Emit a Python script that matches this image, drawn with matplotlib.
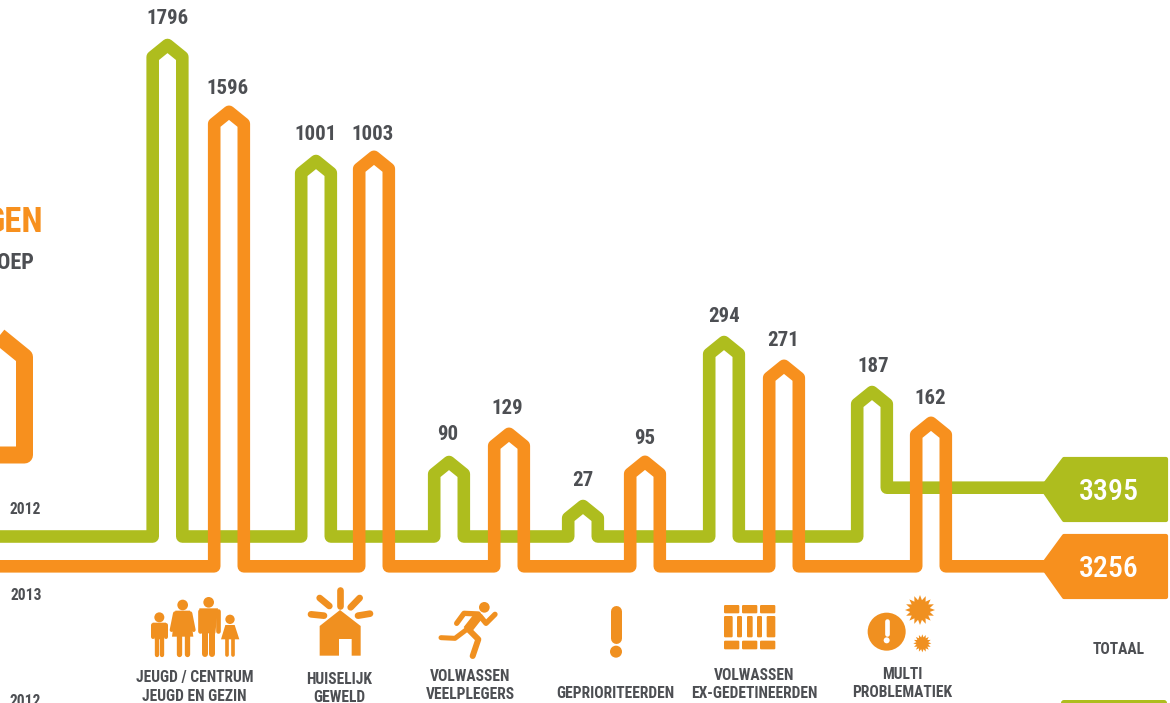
import numpy as np
import matplotlib
matplotlib.use('Agg')
import matplotlib.pyplot as plt
from matplotlib.patches import Circle, Polygon, FancyBboxPatch

GROEN = '#aebd1e'
ORANJE = '#f7901e'
ICOON = '#f09020'
GRIJS = '#4d4f53'
FONT = ['Roboto Condensed', 'Liberation Sans', 'DejaVu Sans']

# DATA: the drawn peak heights are read off the picture, it is not to scale
groen_waarden = [1796, 1001, 90, 27, 294, 187]
oranje_waarden = [1596, 1003, 129, 95, 271, 162]
groen_hoogte = [498, 382, 81, 37, 201, 151]
oranje_hoogte = [461, 416, 139, 111, 207, 150]
groen_totaal = 3395
oranje_totaal = 3256
categorieen = ['JEUGD / CENTRUM\nJEUGD EN GEZIN', 'HUISELIJK\nGEWELD', 'VOLWASSEN\nVEELPLEGERS',
               'GEPRIORITEERDEN', 'VOLWASSEN\nEX-GEDETINEERDEN', 'MULTI\nPROBLEMATIEK']

# LAYOUT
groen_x = [167.5, 316, 449, 583, 724, 872]
oranje_x = [229, 374, 509, 645, 784, 931]
groen_label_x = [168, 316, 447.5, 583, 724, 873]
oranje_label_x = [228, 373, 507.5, 645, 783, 930]
groen_label_y = [18, 134, 435, 480, 317, 366]
oranje_label_y = [89, 134, 409, 438, 341, 398]
cat_x = [194.5, 339, 470.5, 615, 754, 902]
cat_y = [687, 688.5, 685.5, 693.5, 684.5, 683.5]
BASIS_G = 536.5
BASIS_O = 566.3
HALF = 14.8
LW = 12.6 * 0.72

fig = plt.figure(figsize=(11.7, 7.03), dpi=100)
ax = fig.add_axes([0, 0, 1, 1])
ax.set_xlim(0, 1170)
ax.set_ylim(703, 0)
ax.axis('off')


def pad(centers, hoogtes, basis, start):
    xs, ys = [start], [basis]
    for c, h in zip(centers, hoogtes):
        top = basis - h + 6.5
        xs += [c - HALF, c - HALF, c, c + HALF, c + HALF]
        ys += [basis, top + 12, top, top + 12, basis]
    return xs, ys


def lijn(xs, ys, kleur, lw=LW, cap='butt', z=2):
    ax.plot(xs, ys, color=kleur, lw=lw, solid_capstyle=cap, solid_joinstyle='round', zorder=z)


# groene en oranje lijn
gx, gy = pad(groen_x, groen_hoogte, BASIS_G, -5)
gy[-1] = 487.7
gx.append(1050)
gy.append(487.7)
lijn(gx, gy, GROEN, z=2)
ox, oy = pad(oranje_x, oranje_hoogte, BASIS_O, -5)
ox.append(1050)
oy.append(BASIS_O)
lijn(ox, oy, ORANJE, z=3)

# stuk van de linkse figuur
lijn([-5, 24.5, 24.5, -5], [333, 357, 455, 455], ORANJE, lw=17 * 0.72)

# labels totaal
for pts, kleur, z in [([(1042, 488), (1064, 459), (1166, 459), (1166, 520), (1064, 520)], GROEN, 2),
                      ([(1042, 566), (1064, 536), (1166, 536), (1166, 597), (1064, 597)], ORANJE, 3)]:
    ax.add_patch(Polygon(pts, closed=True, facecolor=kleur, edgecolor=kleur, lw=3, joinstyle='round', zorder=z))
ax.add_patch(FancyBboxPatch((1061, 700), 106, 20, boxstyle='round,pad=0,rounding_size=3',
                            facecolor=GROEN, edgecolor=GROEN, lw=0, zorder=2))


def tekst(x, y, s, size, kleur=GRIJS, gewicht='bold', **kw):
    ax.text(x, y, s, fontsize=size, color=kleur, family=FONT, fontweight=gewicht,
            ha=kw.pop('ha', 'center'), va='center', zorder=6, **kw)


for x, y, v in zip(groen_label_x, groen_label_y, groen_waarden):
    tekst(x, y, str(v), 15)
for x, y, v in zip(oranje_label_x, oranje_label_y, oranje_waarden):
    tekst(x, y, str(v), 15)
for x, y, c in zip(cat_x, cat_y, categorieen):
    tekst(x, y, c, 11.2, linespacing=1.3)

tekst(1108.5, 492, str(groen_totaal), 21.5, 'white', 'medium')
tekst(1108.5, 569, str(oranje_totaal), 21.5, 'white', 'medium')
tekst(1119, 650, 'TOTAAL', 11.2)
tekst(25, 509, '2012', 11.2)
tekst(26, 596, '2013', 11.2)
tekst(25, 701, '2012', 11.2)
tekst(42.5, 222, 'GEN', 25, ORANJE, ha='right')
tekst(34, 263, 'OEP', 16, ha='right')


# ICONEN, coordinaten uit een 3x vergroting
def ic_lijn(o, pts, lw, kleur=ICOON, cap='round'):
    xs = [o[0] + p[0] / 3 for p in pts]
    ys = [o[1] + p[1] / 3 for p in pts]
    lijn(xs, ys, kleur, lw=lw / 3 * 0.72, cap=cap, z=5)


def ic_cirkel(o, x, y, r, kleur=ICOON, z=5):
    ax.add_patch(Circle((o[0] + x / 3, o[1] + y / 3), r / 3, facecolor=kleur, edgecolor='none', zorder=z))


def ic_vlak(o, pts, kleur=ICOON):
    ax.add_patch(Polygon([(o[0] + p[0] / 3, o[1] + p[1] / 3) for p in pts], closed=True,
                         facecolor=kleur, edgecolor='none', zorder=5))


def ic_blok(o, x0, x1, y0, y1):
    ax.add_patch(FancyBboxPatch((o[0] + x0 / 3, o[1] + y0 / 3), (x1 - x0) / 3, (y1 - y0) / 3,
                                boxstyle='round,pad=0,rounding_size=1.2', facecolor=ICOON,
                                edgecolor='none', zorder=5))


def ster(o, cx, cy, R, r, n, kleur=ICOON):
    hoeken = np.arange(2 * n) * np.pi / n
    straal = np.where(np.arange(2 * n) % 2 == 0, R, r)
    ic_vlak(o, list(zip(cx + straal * np.sin(hoeken), cy - straal * np.cos(hoeken))), kleur)


o1 = (130, 580)
# jongen
ic_cirkel(o1, 88, 112, 15)
ic_vlak(o1, [(68, 128), (108, 128), (102, 178), (74, 178)])
ic_lijn(o1, [(69, 135), (69, 172)], 12)
ic_lijn(o1, [(107, 135), (107, 172)], 12)
ic_lijn(o1, [(80, 170), (80, 224)], 13)
ic_lijn(o1, [(96, 170), (96, 224)], 13)
# vrouw
ic_cirkel(o1, 158, 75, 16)
ic_vlak(o1, [(136, 92), (180, 92), (190, 170), (126, 170)])
ic_lijn(o1, [(135, 100), (125, 150)], 12)
ic_lijn(o1, [(181, 100), (191, 150)], 12)
ic_lijn(o1, [(146, 165), (146, 222)], 16)
ic_lijn(o1, [(170, 165), (170, 222)], 16)
# man
ic_cirkel(o1, 236, 67, 16)
ic_vlak(o1, [(208, 85), (264, 85), (256, 160), (216, 160)])
ic_lijn(o1, [(210, 92), (210, 152)], 14)
ic_lijn(o1, [(264, 92), (264, 152)], 14)
ic_lijn(o1, [(226, 150), (226, 222)], 18)
ic_lijn(o1, [(247, 150), (247, 222)], 18)
# meisje
ic_cirkel(o1, 300, 118, 14)
ic_vlak(o1, [(286, 135), (314, 135), (328, 178), (273, 178)])
ic_lijn(o1, [(290, 175), (290, 224)], 11)
ic_lijn(o1, [(310, 175), (310, 224)], 11)
# huis
ic_vlak(o1, [(630, 90), (692, 138), (692, 227), (665, 227), (665, 177), (627, 177), (627, 227),
             (569, 227), (569, 138)])
for r in [[(569, 54), (598, 78)], [(630, 31), (630, 78)], [(689, 54), (662, 82)],
          [(543, 103), (582, 107)], [(684, 107), (720, 101)]]:
    ic_lijn(o1, r, 20)
# loper
ic_cirkel(o1, 1063, 82, 16)
ic_lijn(o1, [(1045, 108), (1012, 150)], 28, cap='butt')
ic_lijn(o1, [(1045, 102), (1002, 100), (980, 130)], 16)
ic_lijn(o1, [(1050, 108), (1068, 130), (1095, 103)], 16)
ic_lijn(o1, [(1012, 145), (1045, 178), (1028, 228)], 18)
ic_lijn(o1, [(1008, 150), (975, 175), (933, 173)], 15)

o2 = (540, 580)
# uitroepteken
ic_lijn(o2, [(228, 92), (228, 174)], 33)
ic_cirkel(o2, 228, 215, 18)
# muur
for x0, x1 in [(552, 598), (606, 652), (660, 706)]:
    ic_blok(o2, x0, x1, 75, 100)
    ic_blok(o2, x0, x1, 182, 208)
for x0, x1 in [(552, 578), (591, 606), (621, 638), (651, 666), (680, 706)]:
    ic_blok(o2, x0, x1, 108, 172)
# multi
ic_cirkel(o2, 1040, 155, 57)
ic_lijn(o2, [(1040, 124), (1040, 162)], 14, kleur='white')
ic_cirkel(o2, 1040, 181, 9, kleur='white', z=6)
ster(o2, 1140, 90, 45, 30, 16)
ster(o2, 1147, 190, 27, 18, 16)

plt.savefig('out.png', dpi=100)
